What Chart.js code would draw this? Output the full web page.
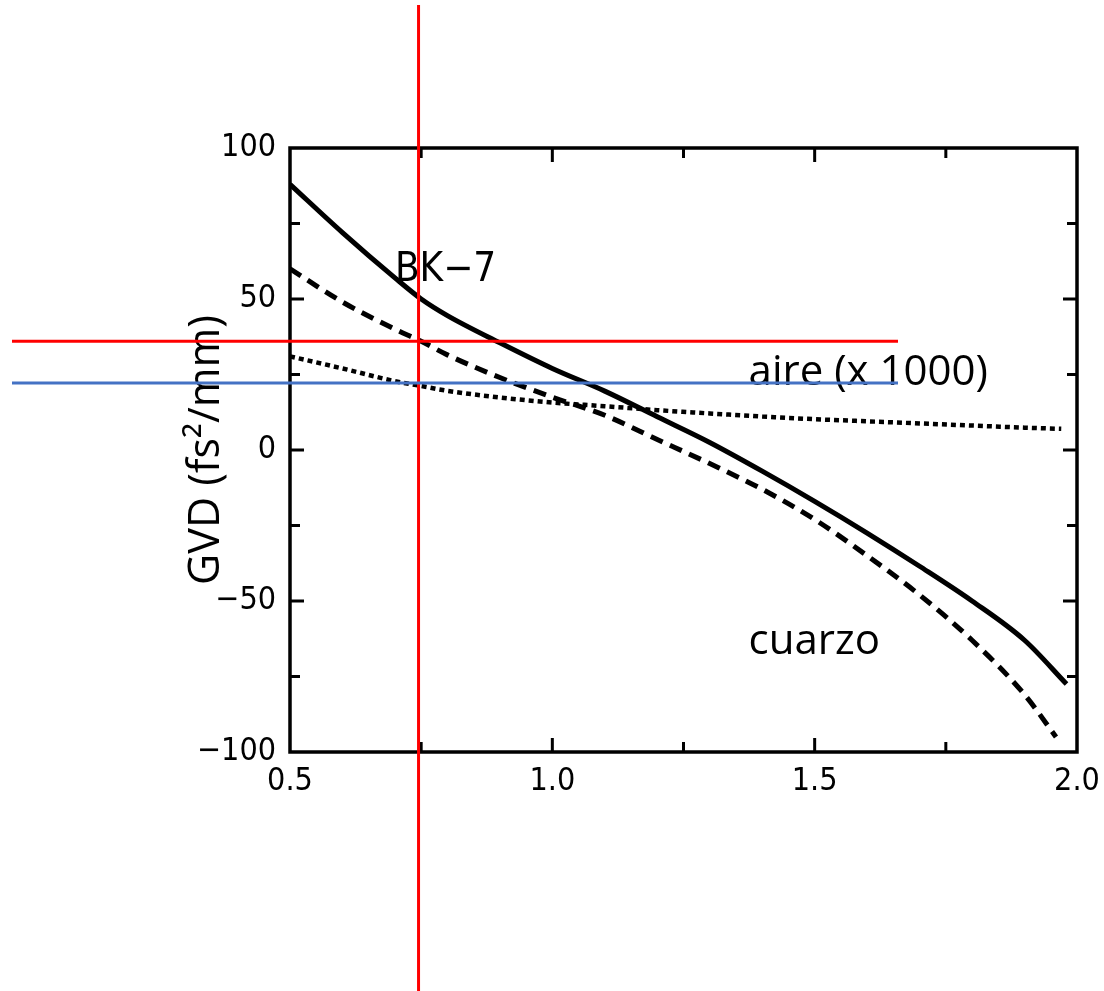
<!doctype html>
<html lang="es">
<head>
    <meta charset="utf-8">
    <title>GVD</title>
    <style>
        body { margin: 0; background: #fff; }
        #wrap { width: 1104px; height: 991px; position: relative; }
    </style>
</head>
<body>
<div id="wrap"><canvas id="myCanvas"></canvas></div>

<script src="https://cdn.jsdelivr.net/npm/chart.js"></script>
<script>
    // values (wavelength in um, GVD in fs^2/mm)
    const bk7X = [0.5, 0.6, 0.7, 0.75, 0.8, 0.9, 1.0, 1.1, 1.2, 1.3, 1.4, 1.5, 1.6, 1.7, 1.8, 1.9, 1.98];
    const bk7Y = [88, 72, 57, 50, 44.5, 35.5, 27, 19.5, 11, 2.5, -7, -17, -27.5, -38.5, -50, -63, -77.5];

    const cuarzoX = [0.5, 0.6, 0.7, 0.75, 0.8, 0.9, 1.0, 1.1, 1.2, 1.3, 1.4, 1.5, 1.6, 1.7, 1.8, 1.9, 1.96];
    const cuarzoY = [60, 49, 40, 36, 31.5, 24, 17.5, 11.5, 3.5, -4.5, -13, -23, -35, -48, -63, -81, -95];

    const aireX = [0.5, 0.6, 0.7, 0.75, 0.8, 0.9, 1.0, 1.1, 1.2, 1.3, 1.4, 1.5, 1.6, 1.7, 1.8, 1.9, 1.97];
    const aireY = [31, 27, 22.8, 21.2, 19.6, 17.4, 15.7, 14.5, 13.2, 12.1, 11.1, 10.2, 9.5, 8.8, 8.1, 7.4, 7];

    const xTickLabels = ['0.5', '1.0', '1.5', '2.0'];
    const yTickLabels = ['100', '50', '0', '−50', '−100'];

    // text labels and the marker lines drawn over the figure
    const notes = [
        {text: 'BK−7', x: 0.70, y: 56, font: '40px "DejaVu Sans Condensed", "DejaVu Sans", sans-serif'},
        {text: 'aire (x 1000)', x: 1.374, y: 21.6, font: '42px "Open Sans", sans-serif'},
        {text: 'cuarzo', x: 1.374, y: -67.5, font: '42px "Open Sans", sans-serif'}
    ];
    const markX = 0.745;
    const markRedY = 36;
    const markBlueY = 22.2;

    const pts = (xs, ys) => xs.map((v, i) => ({x: v, y: ys[i]}));
    const tickFont = {family: '"Liberation Sans Narrow", "DejaVu Sans Condensed", sans-serif', size: 32};

    const overlay = {
        id: 'overlay',
        afterDraw(chart) {
            const ctx = chart.ctx;
            const a = chart.chartArea;
            const xs = chart.scales.x, ys = chart.scales.y;
            ctx.save();
            ctx.strokeStyle = '#000';
            ctx.lineWidth = 3.5;
            ctx.strokeRect(a.left, a.top, a.right - a.left, a.bottom - a.top);

            // inward ticks on all four sides
            ctx.lineWidth = 3;
            ctx.beginPath();
            xs.ticks.forEach(t => {
                if (t.value <= xs.min || t.value >= xs.max) return;
                const px = xs.getPixelForValue(t.value);
                const len = Math.abs(t.value * 2 - Math.round(t.value * 2)) < 1e-6 ? 14 : 10;
                ctx.moveTo(px, a.bottom); ctx.lineTo(px, a.bottom - len);
                ctx.moveTo(px, a.top); ctx.lineTo(px, a.top + len);
            });
            ys.ticks.forEach(t => {
                if (t.value <= ys.min || t.value >= ys.max) return;
                const py = ys.getPixelForValue(t.value);
                const len = t.value % 50 === 0 ? 14 : 10;
                ctx.moveTo(a.left, py); ctx.lineTo(a.left + len, py);
                ctx.moveTo(a.right, py); ctx.lineTo(a.right - len, py);
            });
            ctx.stroke();

            ctx.fillStyle = '#000';
            ctx.textBaseline = 'alphabetic';
            ctx.textAlign = 'left';
            notes.forEach(n => {
                ctx.font = n.font;
                ctx.fillText(n.text, xs.getPixelForValue(n.x), ys.getPixelForValue(n.y));
            });

            // marker lines
            ctx.lineWidth = 3;
            ctx.strokeStyle = '#ff0000';
            const vx = xs.getPixelForValue(markX);
            ctx.beginPath();
            ctx.moveTo(vx, 5); ctx.lineTo(vx, chart.height);
            ctx.stroke();
            ctx.beginPath();
            ctx.moveTo(12, ys.getPixelForValue(markRedY)); ctx.lineTo(898, ys.getPixelForValue(markRedY));
            ctx.stroke();
            ctx.strokeStyle = '#4472c4';
            ctx.beginPath();
            ctx.moveTo(12, ys.getPixelForValue(markBlueY)); ctx.lineTo(898, ys.getPixelForValue(markBlueY));
            ctx.stroke();
            ctx.restore();
        }
    };

    new Chart(document.getElementById('myCanvas'), {
        type: 'scatter',
        data: {
            datasets: [
                {label: 'BK-7', data: pts(bk7X, bk7Y), borderColor: '#000', borderWidth: 5},
                {label: 'cuarzo', data: pts(cuarzoX, cuarzoY), borderColor: '#000', borderWidth: 5, borderDash: [13, 8]},
                {label: 'aire (x 1000)', data: pts(aireX, aireY), borderColor: '#000', borderWidth: 4.5, borderDash: [5, 4]}
            ]
        },
        options: {
            responsive: true,
            maintainAspectRatio: false,
            animation: false,
            showLine: true,
            elements: {
                point: {radius: 0, hoverRadius: 0},
                line: {cubicInterpolationMode: 'monotone', fill: false, borderCapStyle: 'butt'}
            },
            layout: {padding: {top: 148, right: 27, bottom: 179, left: 0}},
            plugins: {legend: {display: false}, tooltip: {enabled: false}},
            scales: {
                x: {
                    type: 'linear', min: 0.5, max: 2.0,
                    grid: {display: false, drawTicks: false},
                    border: {display: false},
                    ticks: {
                        stepSize: 0.25, padding: 10, color: '#000', font: tickFont, maxRotation: 0, autoSkip: false,
                        callback: v => {
                            const i = Math.round((v - 0.5) / 0.5);
                            return Math.abs(v - 0.5 - i * 0.5) < 1e-6 ? xTickLabels[i] : '';
                        }
                    },
                    afterFit: s => { s.height = 60; s.paddingLeft = 0; s.paddingRight = 0; }
                },
                y: {
                    min: -100, max: 100,
                    grid: {display: false, drawTicks: false},
                    border: {display: false},
                    ticks: {
                        stepSize: 25, padding: 14, color: '#000', font: tickFont, autoSkip: false,
                        callback: v => v % 50 === 0 ? yTickLabels[(100 - v) / 50] : ''
                    },
                    title: {
                        display: true,
                        text: 'GVD (fs²/mm)',
                        color: '#000',
                        font: {family: '"Open Sans", sans-serif', size: 43},
                        padding: {top: 181, bottom: 0}
                    },
                    afterFit: s => { s.width = 290; s.paddingTop = 0; s.paddingBottom = 0; }
                }
            }
        },
        plugins: [overlay]
    });
</script>
</body>
</html>
